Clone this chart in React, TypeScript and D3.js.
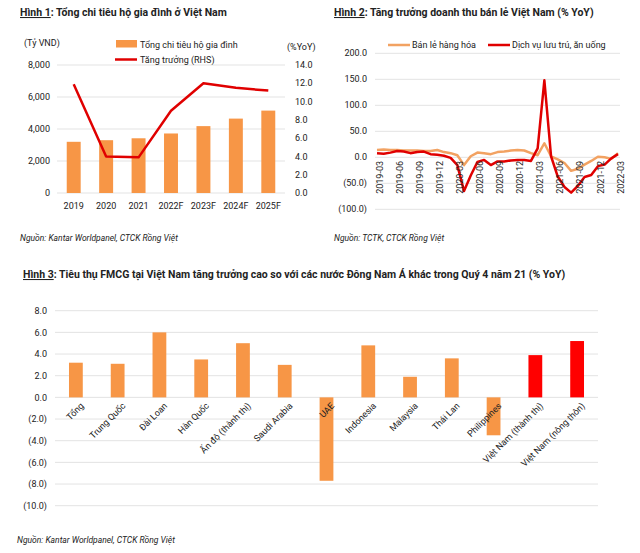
import React from "react";
import * as d3 from "d3";

// ---------- Chart 1 data ----------
const years = ["2019", "2020", "2021", "2022F", "2023F", "2024F", "2025F"];
const spending = [3200, 3300, 3420, 3720, 4180, 4650, 5150];
const growth = [11.9, 4.0, 3.9, 9.0, 12.0, 11.5, 11.2];
const leftTicks = [0, 2000, 4000, 6000, 8000];
const rightTicks = [0, 2, 4, 6, 8, 10, 12, 14];

// ---------- Chart 2 data ----------
const months = [
  "2019-03", "2019-04", "2019-05", "2019-06", "2019-07", "2019-08", "2019-09", "2019-10", "2019-11", "2019-12",
  "2020-01", "2020-02", "2020-03", "2020-04", "2020-05", "2020-06", "2020-07", "2020-08", "2020-09", "2020-10",
  "2020-11", "2020-12", "2021-01", "2021-02", "2021-03", "2021-04", "2021-05", "2021-06", "2021-07", "2021-08",
  "2021-09", "2021-10", "2021-11", "2021-12", "2022-01", "2022-02", "2022-03",
];
const retailGoods = [
  14, 15, 14, 14, 13, 13, 13, 12, 12, 14,
  10, 8, 4, -15, 2, 9, 8, 6, 10, 11,
  13, 14, 13, 8, 4, 27, 2, -4, -11, -26,
  -22, -14, -7, 1, 0, -3, 8,
];
const hospitality = [
  8, 7, 9, 12, 11, 8, 10, 11, 6, 5,
  3, -1, -15, -65, -35, -9, -5, -15, -8, -8,
  -6, -5, -5, -7, 17, 148, 2, -37, -57, -68,
  -55, -38, -34, -17, -14, -2, 6,
];
const monthTickLabels = [
  "2019-03", "2019-06", "2019-09", "2019-12", "2020-03", "2020-06", "2020-09",
  "2020-12", "2021-03", "2021-06", "2021-09", "2021-12", "2022-03",
];
const chart2Ticks = [-100, -50, 0, 50, 100, 150, 200];

// ---------- Chart 3 data ----------
const countries = [
  "Tổng", "Trung Quốc", "Đài Loan", "Hàn Quốc", "Ấn độ (thành thị)", "Saudi Arabia", "UAE",
  "Indonesia", "Malaysia", "Thái Lan", "Philippines", "Việt Nam (thành thị)", "Việt Nam (nông thôn)",
];
const fmcgGrowth = [3.2, 3.1, 6.0, 3.5, 5.0, 3.0, -7.7, 4.8, 1.9, 3.6, -3.5, 3.9, 5.2];
const highlighted = ["Việt Nam (thành thị)", "Việt Nam (nông thôn)"];
const chart3Ticks = [-10, -8, -6, -4, -2, 0, 2, 4, 6, 8];

const FONT = "Roboto, 'Open Sans', sans-serif";
const ORANGE = "#F79646";
const ORANGE_LINE = "#F2A262";
const RED = "#E00000";
const GRID = "#E3E3E3";
const TEXT = "#222";

const fmtParen = (v: number) => (v < 0 ? `(${Math.abs(v).toFixed(1)})` : v.toFixed(1));

function Chart1() {
  const x = d3.scaleBand<string>().domain(years).range([57, 285]).paddingInner(0.57).paddingOuter(0.3);
  const yL = d3.scaleLinear().domain([0, 8000]).range([193, 65]);
  const yR = d3.scaleLinear().domain([0, 14]).range([193, 65]);
  const line = d3
    .line<number>()
    .x((_, i) => (x(years[i]) as number) + x.bandwidth() / 2)
    .y((d) => yR(d));
  const fmt = d3.format(",");
  return (
    <g>
      <text x={20} y={16} fontWeight="bold" fontSize={10.5} fill={TEXT}>
        <tspan textDecoration="underline">Hình 1</tspan>: Tổng chi tiêu hộ gia đình ở Việt Nam
      </text>
      <text x={24} y={46} fontSize={9} fill={TEXT}>(Tỷ VND)</text>
      <text x={287} y={50} fontSize={9} fill={TEXT}>(%YoY)</text>
      {leftTicks.map((t) => (
        <g key={t}>
          <line x1={57} x2={285} y1={yL(t)} y2={yL(t)} stroke={GRID} strokeWidth={1} />
          <text x={50} y={yL(t)} dy="0.35em" textAnchor="end" fontSize={9} fill={TEXT}>
            {fmt(t)}
          </text>
        </g>
      ))}
      {rightTicks.map((t) => (
        <text key={t} x={295} y={yR(t)} dy="0.35em" fontSize={9} fill={TEXT}>
          {t.toFixed(1)}
        </text>
      ))}
      {years.map((yr, i) => (
        <rect key={yr} x={x(yr)} y={yL(spending[i])} width={x.bandwidth()} height={yL(0) - yL(spending[i])} fill={ORANGE} />
      ))}
      <path d={line(growth) || ""} fill="none" stroke={RED} strokeWidth={2.5} strokeLinejoin="round" />
      {years.map((yr) => (
        <text key={yr} x={(x(yr) as number) + x.bandwidth() / 2} y={209} textAnchor="middle" fontSize={9} fill={TEXT}>
          {yr}
        </text>
      ))}
      {/* legend */}
      <rect x={116} y={40} width={21} height={7.5} fill={ORANGE} />
      <text x={140} y={47.5} fontSize={9} fill={TEXT}>Tổng chi tiêu hộ gia đình</text>
      <line x1={115} x2={137} y1={59.5} y2={59.5} stroke={RED} strokeWidth={2.5} />
      <text x={140} y={62.5} fontSize={9} fill={TEXT}>Tăng trưởng (RHS)</text>
      <text x={20} y={241} fontSize={8.5} fontStyle="italic" fill={TEXT}>
        Nguồn: Kantar Worldpanel, CTCK Rồng Việt
      </text>
    </g>
  );
}

function Chart2() {
  const x = d3.scalePoint<string>().domain(months).range([377, 618]);
  const y = d3.scaleLinear().domain([-100, 200]).range([209.3, 53.3]);
  const line = d3
    .line<number>()
    .x((_, i) => x(months[i]) as number)
    .y((d) => y(d));
  return (
    <g>
      <text x={334} y={16} fontWeight="bold" fontSize={10.5} fill={TEXT}>
        <tspan textDecoration="underline">Hình 2</tspan>: Tăng trưởng doanh thu bán lẻ Việt Nam (% YoY)
      </text>
      {chart2Ticks.map((t) => (
        <g key={t}>
          <line x1={375} x2={620} y1={y(t)} y2={y(t)} stroke={GRID} strokeWidth={1} />
          <text x={367} y={y(t)} dy="0.35em" textAnchor="end" fontSize={9} fill={TEXT}>
            {fmtParen(t)}
          </text>
        </g>
      ))}
      <path d={line(retailGoods) || ""} fill="none" stroke={ORANGE_LINE} strokeWidth={2.5} strokeLinejoin="round" />
      <path d={line(hospitality) || ""} fill="none" stroke={RED} strokeWidth={2.5} strokeLinejoin="round" />
      {monthTickLabels.map((m) => (
        <text
          key={m}
          transform={`translate(${(x(m) as number) + 2.5},161) rotate(-90)`}
          textAnchor="end"
          dy="0.35em"
          fontSize={9}
          fill={TEXT}
        >
          {m}
        </text>
      ))}
      <line x1={388} x2={410} y1={45} y2={45} stroke={ORANGE_LINE} strokeWidth={2.5} />
      <text x={412} y={48} fontSize={9} fill={TEXT}>Bán lẻ hàng hóa</text>
      <line x1={488} x2={510} y1={45} y2={45} stroke={RED} strokeWidth={2.5} />
      <text x={512} y={48} fontSize={9} fill={TEXT}>Dịch vụ lưu trú, ăn uống</text>
      <text x={334} y={241} fontSize={8.5} fontStyle="italic" fill={TEXT}>
        Nguồn: TCTK, CTCK Rồng Việt
      </text>
    </g>
  );
}

function Chart3() {
  const x = d3.scaleBand<string>().domain(countries).range([55, 598]).paddingInner(0.67).paddingOuter(0.335);
  const y = d3.scaleLinear().domain([-10, 8]).range([505.7, 310.7]);
  return (
    <g>
      <text x={23} y={278} fontWeight="bold" fontSize={10.5} fill={TEXT}>
        <tspan textDecoration="underline">Hình 3</tspan>: Tiêu thụ FMCG tại Việt Nam tăng trưởng cao so với các nước Đông Nam Á khác trong Quý 4 năm 21 (% YoY)
      </text>
      {chart3Ticks.map((t) => (
        <g key={t}>
          <line x1={55} x2={598} y1={y(t)} y2={y(t)} stroke={GRID} strokeWidth={1} />
          <text x={47} y={y(t)} dy="0.35em" textAnchor="end" fontSize={9} fill={TEXT}>
            {fmtParen(t)}
          </text>
        </g>
      ))}
      {countries.map((c, i) => {
        const v = fmcgGrowth[i];
        return (
          <rect
            key={c}
            x={x(c)}
            y={y(Math.max(0, v))}
            width={x.bandwidth()}
            height={Math.abs(y(v) - y(0))}
            fill={highlighted.includes(c) ? "#FF0000" : ORANGE}
          />
        );
      })}
      {countries.map((c) => (
        <text
          key={c}
          transform={`translate(${(x(c) as number) + x.bandwidth() / 2 + 4},402) rotate(-45)`}
          textAnchor="end"
          dy="0.7em"
          fontSize={9}
          fill={TEXT}
        >
          {c}
        </text>
      ))}
      <text x={17} y={543} fontSize={8.5} fontStyle="italic" fill={TEXT}>
        Nguồn: Kantar Worldpanel, CTCK Rồng Việt
      </text>
    </g>
  );
}

export default function App() {
  return (
    <svg
      width={640}
      height={553}
      viewBox="0 0 640 553"
      style={{ position: "absolute", left: 0, top: 0, background: "#fff", fontFamily: FONT }}
    >
      <rect width={640} height={553} fill="#fff" />
      <Chart1 />
      <Chart2 />
      <Chart3 />
    </svg>
  );
}
